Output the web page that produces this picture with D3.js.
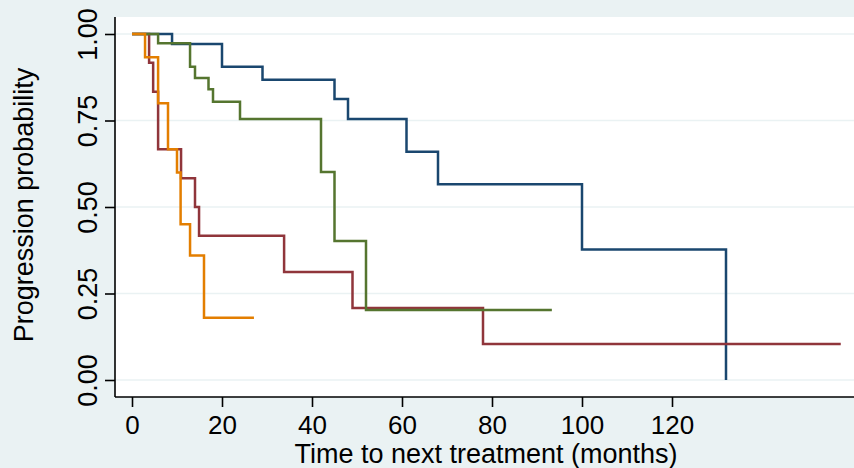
<!DOCTYPE html>
<html>
<head>
<meta charset="UTF-8">
<title>Time to next treatment</title>
<style>
  body { margin: 0; background: #eaf2f3; }
  svg { display: block; font-family: "Liberation Sans", Arial, Helvetica, sans-serif; }
</style>
</head>
<body>
<svg width="854" height="468"></svg>

<script src="https://d3js.org/d3.v7.min.js"></script>
<script>
// Kaplan-Meier steps (months, survival)
const blueTime   = [0, 8.9, 20, 29, 45, 48, 61, 68, 100, 132];
const blueSurv   = [1, 0.971, 0.905, 0.868, 0.812, 0.754, 0.660, 0.566, 0.377, 0];

const maroonTime = [0, 3.8, 4.7, 5.8, 10.9, 14, 14.9, 33.8, 49, 78, 157.5];
const maroonSurv = [1, 0.917, 0.833, 0.667, 0.583, 0.5, 0.417, 0.3125, 0.208, 0.104, 0.104];

const greenTime  = [0, 5.8, 12.9, 14, 17, 18, 24, 42, 45, 52, 93.3];
const greenSurv  = [1, 0.973, 0.905, 0.873, 0.84, 0.804, 0.754, 0.601, 0.402, 0.202, 0.202];

const orangeTime = [0, 2.9, 5.8, 8, 10, 10.8, 12.9, 16, 27.1];
const orangeSurv = [1, 0.933, 0.8, 0.667, 0.6, 0.45, 0.36, 0.18, 0.18];

const xTicks = [0, 20, 40, 60, 80, 100, 120];
const yTicks = [0, 0.25, 0.5, 0.75, 1];

const series = [
  {time: blueTime,   surv: blueSurv,   color: "#1a476f"},
  {time: maroonTime, surv: maroonSurv, color: "#90353b"},
  {time: greenTime,  surv: greenSurv,  color: "#55752f"},
  {time: orangeTime, surv: orangeSurv, color: "#e37e00"}
];

let svg = d3.select("svg");

// plot region
let pLeft = 115, pTop = 17, pRight = 854, pBottom = 397;

let x = d3.scaleLinear().domain([0, 120]).range([132, 672]);
let y = d3.scaleLinear().domain([0, 1]).range([380, 34]);

svg.append("rect")
  .attr("x", pLeft).attr("y", pTop)
  .attr("width", pRight - pLeft).attr("height", pBottom - pTop)
  .attr("fill", "white");

svg.append("clipPath").attr("id", "clip")
  .append("rect")
  .attr("x", pLeft).attr("y", pTop)
  .attr("width", pRight - pLeft).attr("height", pBottom - pTop);

// grid
svg.append("g")
  .selectAll("line")
  .data(yTicks)
  .enter()
  .append("line")
  .attr("x1", pLeft).attr("x2", pRight)
  .attr("y1", d => y(d)).attr("y2", d => y(d))
  .attr("stroke", "#eaf2f3")
  .attr("stroke-width", 1.5);

// curves
let line = d3.line()
  .x(d => x(d[0]))
  .y(d => y(d[1]))
  .curve(d3.curveStepAfter);

svg.append("g")
  .attr("clip-path", "url(#clip)")
  .selectAll("path")
  .data(series)
  .enter()
  .append("path")
  .attr("d", s => line(s.time.map((t, i) => [t, s.surv[i]])))
  .attr("fill", "none")
  .attr("stroke", s => s.color)
  .attr("stroke-width", 2.5);

// y axis
let yAxis = svg.append("g")
  .attr("transform", "translate(" + pLeft + ",0)")
  .call(d3.axisLeft(y).tickValues(yTicks).tickSize(10).tickFormat(d3.format(".2f")));
yAxis.select(".domain").attr("d", "M0," + pTop + "V" + pBottom).attr("stroke-width", 1.6);
yAxis.selectAll(".tick line").attr("stroke-width", 1.6);
yAxis.selectAll(".tick text")
  .attr("font-size", 27)
  .attr("fill", "#000")
  .attr("text-anchor", "middle")
  .attr("x", null).attr("dy", null)
  .attr("transform", "translate(-18,0) rotate(-90)");

// x axis
let xAxis = svg.append("g")
  .attr("transform", "translate(0," + pBottom + ")")
  .call(d3.axisBottom(x).tickValues(xTicks).tickSize(10));
xAxis.select(".domain").attr("d", "M" + pLeft + ",0H" + pRight).attr("stroke-width", 1.6);
xAxis.selectAll(".tick line").attr("stroke-width", 1.6);
xAxis.selectAll(".tick text")
  .attr("font-size", 26)
  .attr("fill", "#000")
  .attr("y", 37).attr("dy", null);

// titles
svg.append("text")
  .attr("x", 486)
  .attr("y", 463)
  .attr("text-anchor", "middle")
  .attr("font-size", 27)
  .text("Time to next treatment (months)");

svg.append("text")
  .attr("transform", "translate(33,205) rotate(-90)")
  .attr("text-anchor", "middle")
  .attr("font-size", 27)
  .text("Progression probability");
</script>
</body>
</html>
